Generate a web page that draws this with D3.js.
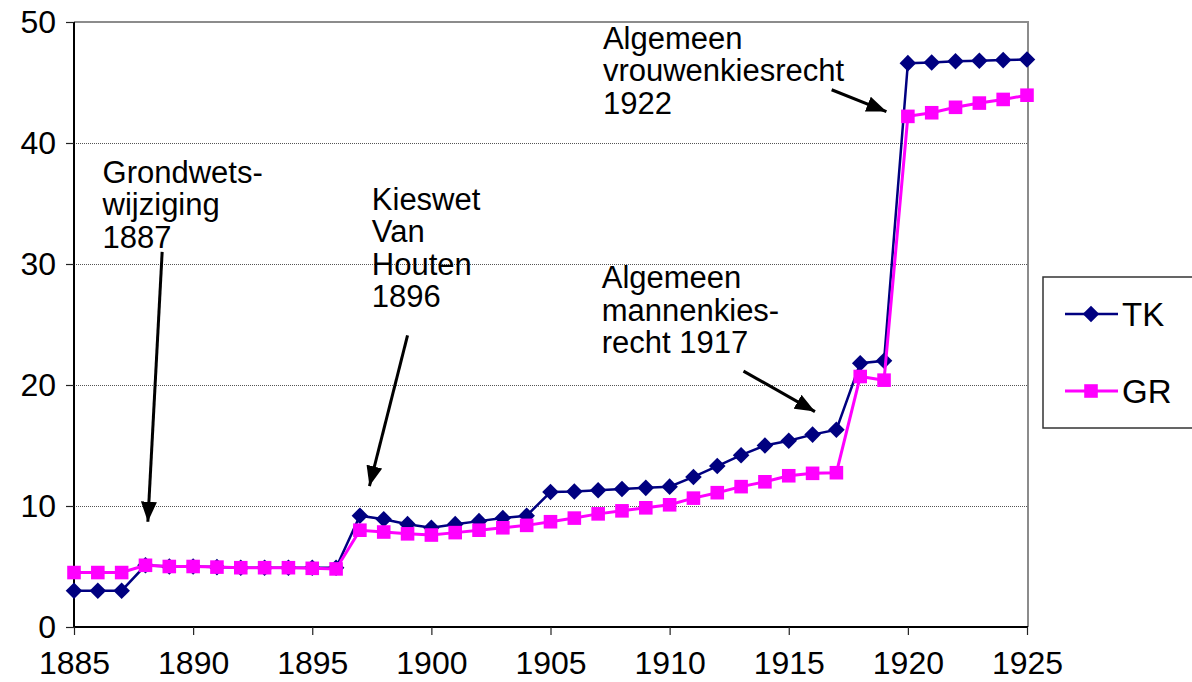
<!DOCTYPE html>
<html>
<head>
<meta charset="utf-8">
<script src="https://cdn.jsdelivr.net/npm/d3@7"></script>
<style>
  body { margin: 0; background: #fff; }
  text { font-family: Arial, "Liberation Sans", sans-serif; fill: #000; }
</style>
</head>
<body>
<div id="chart"><svg width="1192" height="682"></svg></div>
<script>
// data
var years = d3.range(1885, 1926);
var tk = [3.0, 3.0, 3.0, 5.1, 5.0, 5.0, 4.95, 4.9, 4.9, 4.9, 4.9, 4.9,
          9.2, 8.9, 8.5, 8.2, 8.5, 8.75, 9.0, 9.2,
          11.15, 11.2, 11.3, 11.4, 11.5, 11.6, 12.4, 13.3, 14.2, 15.0, 15.4, 15.9, 16.3,
          21.8, 22.0, 46.6, 46.65, 46.75, 46.8, 46.85, 46.9];
var gr = [4.5, 4.5, 4.5, 5.1, 5.0, 5.0, 4.95, 4.9, 4.9, 4.9, 4.85, 4.8,
          8.0, 7.85, 7.7, 7.6, 7.8, 8.0, 8.2, 8.4,
          8.7, 9.0, 9.35, 9.6, 9.85, 10.1, 10.65, 11.1, 11.6, 12.0, 12.5, 12.7, 12.75,
          20.7, 20.4, 42.2, 42.5, 42.95, 43.3, 43.6, 43.95];
var xTicks = [1885, 1890, 1895, 1900, 1905, 1910, 1915, 1920, 1925];
var yTicks = [0, 10, 20, 30, 40, 50];
var seriesNames = ["TK", "GR"];

// annotations: text lines and arrow (from -> to) in data units
var notes = [
  {lines: ["Grondwets-", "wijziging", "1887"], x: 1886.2, y: 36.7, from: [1888.7, 31.0], to: [1888.1, 8.7]},
  {lines: ["Kieswet", "Van", "Houten", "1896"], x: 1897.5, y: 34.5, from: [1899.0, 24.1], to: [1897.4, 11.65]},
  {lines: ["Algemeen", "mannenkies-", "recht 1917"], x: 1907.15, y: 28.0, from: [1913.1, 21.15], to: [1916.1, 17.8]},
  {lines: ["Algemeen", "vrouwenkiesrecht", "1922"], x: 1907.2, y: 47.8, from: [1916.8, 44.4], to: [1919.1, 42.6]}
];

function drawChart(){
  var pLeft = 74, pRight = 1028, pTop = 22, pBottom = 627;
  var svg = d3.select("#chart svg");

  var x = d3.scaleLinear().domain([1885, 1925]).range([pLeft, pRight - 1]);
  var y = d3.scaleLinear().domain([0, 50]).range([pBottom, pTop]);

  // gridlines
  svg.append("g")
    .selectAll("line")
    .data(yTicks.filter(function(d){ return d > 0 && d < 50; }))
    .enter().append("line")
      .attr("x1", pLeft).attr("x2", pRight)
      .attr("y1", function(d){ return y(d) + 0.5; })
      .attr("y2", function(d){ return y(d) + 0.5; })
      .style("stroke", "#555")
      .style("stroke-width", 1)
      .style("stroke-dasharray", "1,1");

  // plot border top / right (grey)
  svg.append("path")
    .attr("d", "M" + pLeft + "," + pTop + "H" + pRight + "V" + pBottom)
    .style("fill", "none")
    .style("stroke", "#8c8c8c")
    .style("stroke-width", 2);

  // axes
  var yAxis = svg.append("g")
    .attr("transform", "translate(" + pLeft + ",0)")
    .call(d3.axisLeft(y).tickValues(yTicks).tickSize(8).tickPadding(10));
  var xAxis = svg.append("g")
    .attr("transform", "translate(0," + pBottom + ")")
    .call(d3.axisBottom(x).tickValues(xTicks).tickFormat(d3.format("d")).tickSize(8).tickPadding(17));

  [yAxis, xAxis].forEach(function(a){
    a.select(".domain").style("stroke", "#000").style("stroke-width", 2);
    a.selectAll(".tick line").style("stroke", "#222").style("stroke-width", 1.2);
    a.selectAll("text").style("font-size", "32px").style("font-family", "Arial, 'Liberation Sans', sans-serif");
  });
  xAxis.selectAll("text").attr("dy", "0.7em");
  yAxis.select(".domain").attr("d", "M0," + pBottom + "V" + pTop);
  xAxis.select(".domain").attr("d", "M" + pLeft + ",0H" + pRight);

  var colors = {TK: "#000080", GR: "#ff00ff"};
  var diamond = d3.symbol().type(d3.symbolDiamond2).size(175);
  var square = d3.symbol().type(d3.symbolSquare2).size(235);

  var line = d3.line()
    .x(function(d){ return x(d.year); })
    .y(function(d){ return y(d.value); });

  var series = seriesNames.map(function(name){
    var vals = name === "TK" ? tk : gr;
    return {name: name, values: years.map(function(yr, i){ return {year: yr, value: vals[i]}; })};
  });

  // draw TK first, GR over it
  series.forEach(function(s){
    var g = svg.append("g");
    g.append("path")
      .datum(s.values)
      .attr("d", line)
      .style("fill", "none")
      .style("stroke", colors[s.name])
      .style("stroke-width", s.name === "TK" ? 2.5 : 3);
    g.selectAll("path.mark")
      .data(s.values)
      .enter().append("path")
        .attr("class", "mark")
        .attr("transform", function(d){ return "translate(" + x(d.year) + "," + y(d.value) + ")"; })
        .attr("d", s.name === "TK" ? diamond : square)
        .style("fill", colors[s.name]);
  });

  // arrow head
  svg.append("defs").append("marker")
    .attr("id", "head")
    .attr("markerUnits", "userSpaceOnUse")
    .attr("viewBox", "0 0 20 16")
    .attr("refX", 20).attr("refY", 8)
    .attr("markerWidth", 20).attr("markerHeight", 16)
    .attr("orient", "auto")
    .append("path")
      .attr("d", "M0,0L20,8L0,16Z")
      .style("fill", "#000");

  notes.forEach(function(n){
    var t = svg.append("text")
      .attr("x", x(n.x)).attr("y", y(n.y))
      .style("font-size", "31px");
    n.lines.forEach(function(l, i){
      t.append("tspan").attr("x", x(n.x)).attr("dy", i === 0 ? 0 : 32.5).text(l);
    });
    svg.append("line")
      .attr("x1", x(n.from[0])).attr("y1", y(n.from[1]))
      .attr("x2", x(n.to[0])).attr("y2", y(n.to[1]))
      .style("stroke", "#000")
      .style("stroke-width", 3)
      .attr("marker-end", "url(#head)");
  });

  // legend
  var legend = svg.append("g").attr("transform", "translate(1043,277)");
  legend.append("rect")
    .attr("width", 160).attr("height", 151)
    .style("fill", "#fff")
    .style("stroke", "#333")
    .style("stroke-width", 1.5);
  seriesNames.forEach(function(name, i){
    var row = legend.append("g").attr("transform", "translate(0," + (37 + i * 77) + ")");
    row.append("line")
      .attr("x1", 22).attr("x2", 75)
      .style("stroke", colors[name])
      .style("stroke-width", name === "TK" ? 2.5 : 3);
    row.append("path")
      .attr("transform", "translate(48,0)")
      .attr("d", name === "TK" ? diamond : square)
      .style("fill", colors[name]);
    row.append("text")
      .attr("x", 79).attr("y", 0).attr("dy", "0.36em")
      .style("font-size", "33px")
      .text(name);
  });
}

drawChart();
</script>
</body>
</html>
